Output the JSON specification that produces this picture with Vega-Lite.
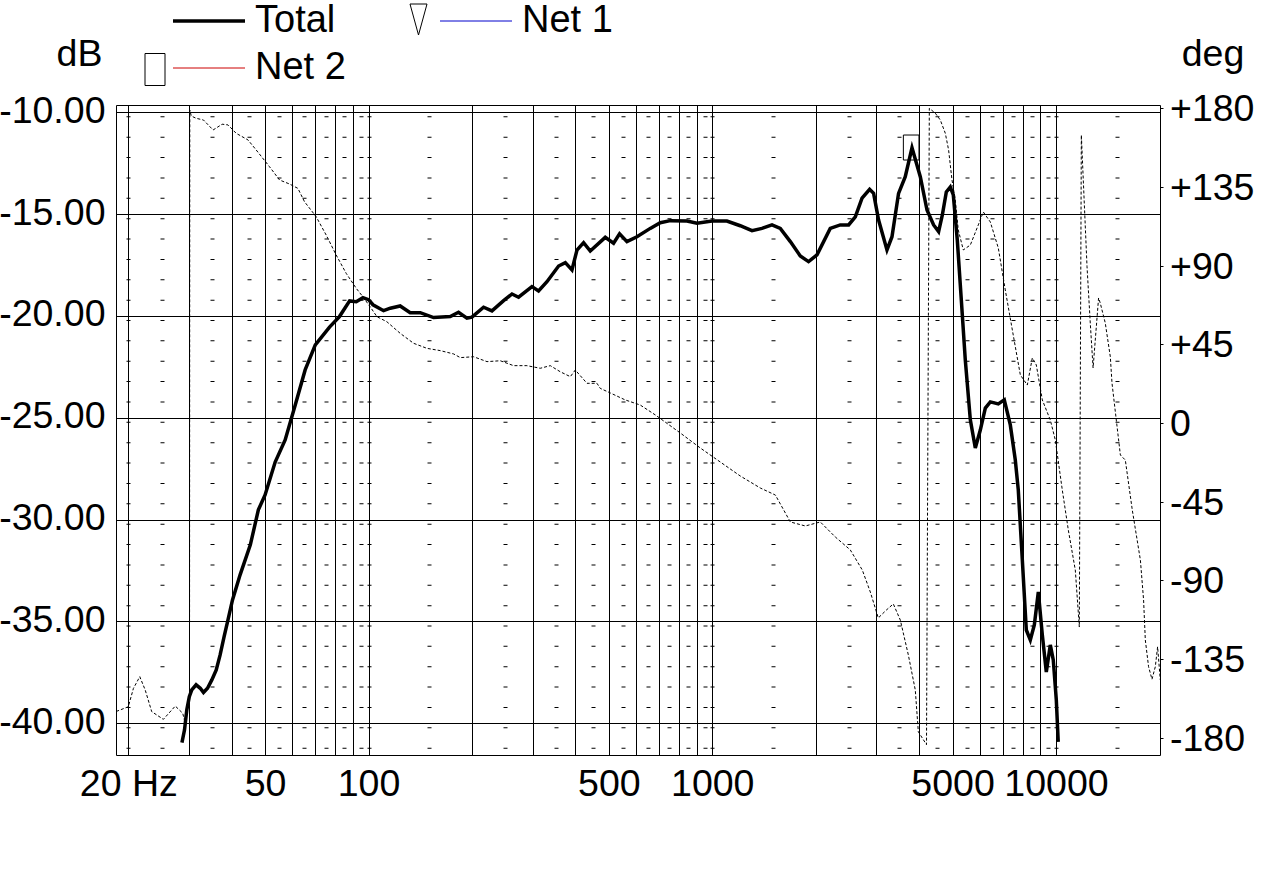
{
  "$schema": "https://vega.github.io/schema/vega-lite/v6.json",
  "width": 1044,
  "height": 650,
  "autosize": {"type": "none"},
  "padding": {"left": 116, "top": 105, "right": 116, "bottom": 137},
  "background": "white",
  "config": {
    "view": {"stroke": "black", "strokeWidth": 1},
    "axis": {"labelFont": "Liberation Sans", "labelFontSize": 37.5, "labelColor": "black", "titleFont": "Liberation Sans", "titleFontSize": 37.5, "titleFontWeight": "normal", "titleColor": "black", "gridColor": "black", "gridOpacity": 1, "gridWidth": 1, "domain": false, "ticks": false, "tickSize": 0},
    "legend": {"padding": 0, "titlePadding": 0}
  },
  "datasets": {
    "mag": [
      {"f": 28.65, "db": -40.95, "series": "Total"}, {"f": 29.15, "db": -40.32, "series": "Total"}, {"f": 29.6, "db": -39.34, "series": "Total"},
      {"f": 30.1, "db": -38.69, "series": "Total"}, {"f": 30.6, "db": -38.36, "series": "Total"}, {"f": 31.5, "db": -38.11, "series": "Total"},
      {"f": 32.4, "db": -38.28, "series": "Total"}, {"f": 33.1, "db": -38.49, "series": "Total"}, {"f": 34.0, "db": -38.28, "series": "Total"},
      {"f": 35.0, "db": -37.87, "series": "Total"}, {"f": 36.05, "db": -37.38, "series": "Total"}, {"f": 37.0, "db": -36.64, "series": "Total"},
      {"f": 38.0, "db": -35.74, "series": "Total"}, {"f": 39.0, "db": -34.92, "series": "Total"}, {"f": 40.2, "db": -33.94, "series": "Total"},
      {"f": 42.3, "db": -32.71, "series": "Total"}, {"f": 45.3, "db": -31.24, "series": "Total"}, {"f": 47.8, "db": -29.52, "series": "Total"},
      {"f": 50.0, "db": -28.79, "series": "Total"}, {"f": 53.5, "db": -27.17, "series": "Total"}, {"f": 57.2, "db": -26.09, "series": "Total"},
      {"f": 61.2, "db": -24.37, "series": "Total"}, {"f": 65.4, "db": -22.65, "series": "Total"}, {"f": 70.0, "db": -21.42, "series": "Total"},
      {"f": 77.0, "db": -20.55, "series": "Total"}, {"f": 82.3, "db": -20.03, "series": "Total"}, {"f": 88.1, "db": -19.26, "series": "Total"},
      {"f": 92.1, "db": -19.3, "series": "Total"}, {"f": 96.3, "db": -19.1, "series": "Total"}, {"f": 100, "db": -19.2, "series": "Total"},
      {"f": 103, "db": -19.45, "series": "Total"}, {"f": 110.6, "db": -19.74, "series": "Total"}, {"f": 115.7, "db": -19.62, "series": "Total"},
      {"f": 123.6, "db": -19.51, "series": "Total"}, {"f": 132.2, "db": -19.84, "series": "Total"}, {"f": 141.4, "db": -19.84, "series": "Total"},
      {"f": 154.6, "db": -20.08, "series": "Total"}, {"f": 172.9, "db": -20.03, "series": "Total"}, {"f": 182.7, "db": -19.82, "series": "Total"},
      {"f": 193.3, "db": -20.11, "series": "Total"}, {"f": 199.9, "db": -20.06, "series": "Total"}, {"f": 216.1, "db": -19.57, "series": "Total"},
      {"f": 228.6, "db": -19.75, "series": "Total"}, {"f": 247.1, "db": -19.25, "series": "Total"}, {"f": 261.4, "db": -18.92, "series": "Total"},
      {"f": 273.2, "db": -19.08, "series": "Total"}, {"f": 298.8, "db": -18.56, "series": "Total"}, {"f": 312.3, "db": -18.77, "series": "Total"},
      {"f": 330.4, "db": -18.32, "series": "Total"}, {"f": 357.2, "db": -17.55, "series": "Total"}, {"f": 373.6, "db": -17.38, "series": "Total"},
      {"f": 390.7, "db": -17.74, "series": "Total"}, {"f": 404, "db": -16.76, "series": "Total"}, {"f": 422.3, "db": -16.4, "series": "Total"},
      {"f": 441.6, "db": -16.81, "series": "Total"}, {"f": 488.3, "db": -16.14, "series": "Total"}, {"f": 516.2, "db": -16.43, "series": "Total"},
      {"f": 537.4, "db": -15.97, "series": "Total"}, {"f": 564.6, "db": -16.35, "series": "Total"}, {"f": 603.8, "db": -16.11, "series": "Total"},
      {"f": 660, "db": -15.7, "series": "Total"}, {"f": 705.8, "db": -15.42, "series": "Total"}, {"f": 754.8, "db": -15.32, "series": "Total"},
      {"f": 844.2, "db": -15.34, "series": "Total"}, {"f": 902.7, "db": -15.45, "series": "Total"}, {"f": 998, "db": -15.34, "series": "Total"},
      {"f": 1103, "db": -15.34, "series": "Total"}, {"f": 1206, "db": -15.57, "series": "Total"}, {"f": 1305, "db": -15.81, "series": "Total"},
      {"f": 1395, "db": -15.7, "series": "Total"}, {"f": 1492, "db": -15.53, "series": "Total"}, {"f": 1577, "db": -15.7, "series": "Total"},
      {"f": 1687, "db": -16.35, "series": "Total"}, {"f": 1803, "db": -17.05, "series": "Total"}, {"f": 1906, "db": -17.33, "series": "Total"},
      {"f": 2017, "db": -17.0, "series": "Total"}, {"f": 2204, "db": -15.7, "series": "Total"}, {"f": 2357, "db": -15.53, "series": "Total"},
      {"f": 2493, "db": -15.53, "series": "Total"}, {"f": 2607, "db": -15.13, "series": "Total"}, {"f": 2727, "db": -14.22, "series": "Total"},
      {"f": 2869, "db": -13.78, "series": "Total"}, {"f": 2947, "db": -13.98, "series": "Total"}, {"f": 3047, "db": -15.29, "series": "Total"},
      {"f": 3223, "db": -16.76, "series": "Total"}, {"f": 3333, "db": -16.11, "series": "Total"}, {"f": 3483, "db": -13.98, "series": "Total"},
      {"f": 3643, "db": -13.16, "series": "Total"}, {"f": 3811, "db": -11.74, "series": "Total"}, {"f": 4029, "db": -13.16, "series": "Total"},
      {"f": 4214, "db": -14.8, "series": "Total"}, {"f": 4405, "db": -15.53, "series": "Total"}, {"f": 4555, "db": -15.86, "series": "Total"},
      {"f": 4670, "db": -15.04, "series": "Total"}, {"f": 4796, "db": -13.91, "series": "Total"}, {"f": 4926, "db": -13.67, "series": "Total"},
      {"f": 5026, "db": -14.06, "series": "Total"}, {"f": 5162, "db": -16.27, "series": "Total"}, {"f": 5303, "db": -19.21, "series": "Total"},
      {"f": 5446, "db": -22.16, "series": "Total"}, {"f": 5633, "db": -25.1, "series": "Total"}, {"f": 5824, "db": -26.48, "series": "Total"},
      {"f": 6023, "db": -25.6, "series": "Total"}, {"f": 6228, "db": -24.52, "series": "Total"}, {"f": 6440, "db": -24.22, "series": "Total"},
      {"f": 6794, "db": -24.32, "series": "Total"}, {"f": 7072, "db": -24.12, "series": "Total"}, {"f": 7363, "db": -25.35, "series": "Total"},
      {"f": 7613, "db": -27.07, "series": "Total"}, {"f": 7767, "db": -28.54, "series": "Total"}, {"f": 7980, "db": -31.98, "series": "Total"},
      {"f": 8196, "db": -35.42, "series": "Total"}, {"f": 8419, "db": -35.91, "series": "Total"}, {"f": 8648, "db": -35.17, "series": "Total"},
      {"f": 8883, "db": -33.55, "series": "Total"}, {"f": 9124, "db": -35.66, "series": "Total"}, {"f": 9371, "db": -37.48, "series": "Total"},
      {"f": 9625, "db": -36.15, "series": "Total"}, {"f": 9819, "db": -36.89, "series": "Total"}, {"f": 10020, "db": -38.85, "series": "Total"},
      {"f": 10150, "db": -40.91, "series": "Total"}
    ],
    "phase": [
      {"f": 18.45, "deg": -165, "seg": "a"}, {"f": 20.0, "deg": -162.3, "seg": "a"}, {"f": 20.7, "deg": -151.8, "seg": "a"},
      {"f": 21.6, "deg": -145.1, "seg": "a"}, {"f": 22.4, "deg": -152.7, "seg": "a"}, {"f": 23.4, "deg": -165.1, "seg": "a"},
      {"f": 25.3, "deg": -169.5, "seg": "a"}, {"f": 27.4, "deg": -161.9, "seg": "a"}, {"f": 28.8, "deg": -166.0, "seg": "a"},
      {"f": 29.3, "deg": -171.8, "seg": "a"},
      {"f": 30.15, "deg": -114, "seg": "b"}, {"f": 30.2, "deg": 179, "seg": "b"}, {"f": 30.5, "deg": 175.6, "seg": "b"},
      {"f": 31.5, "deg": 174.3, "seg": "b"}, {"f": 33.1, "deg": 173.3, "seg": "b"}, {"f": 35.3, "deg": 167.6, "seg": "b"},
      {"f": 37.5, "deg": 170.9, "seg": "b"}, {"f": 39.0, "deg": 170.5, "seg": "b"}, {"f": 41.2, "deg": 165.7, "seg": "b"},
      {"f": 44.6, "deg": 161.9, "seg": "b"}, {"f": 47.1, "deg": 156.2, "seg": "b"}, {"f": 51.5, "deg": 146.6, "seg": "b"},
      {"f": 55.1, "deg": 139.0, "seg": "b"}, {"f": 58.9, "deg": 136.7, "seg": "b"}, {"f": 62.3, "deg": 134.2, "seg": "b"},
      {"f": 65.1, "deg": 126.6, "seg": "b"}, {"f": 70.4, "deg": 118.0, "seg": "b"}, {"f": 75.3, "deg": 107.5, "seg": "b"},
      {"f": 80.5, "deg": 96.1, "seg": "b"}, {"f": 86.1, "deg": 85.6, "seg": "b"}, {"f": 92.1, "deg": 77.0, "seg": "b"},
      {"f": 96.3, "deg": 72.2, "seg": "b"}, {"f": 101.8, "deg": 65.6, "seg": "b"}, {"f": 105.8, "deg": 60.8, "seg": "b"},
      {"f": 113.1, "deg": 57.9, "seg": "b"}, {"f": 123.6, "deg": 51.3, "seg": "b"}, {"f": 135.2, "deg": 45.6, "seg": "b"},
      {"f": 147.9, "deg": 42.7, "seg": "b"}, {"f": 161.7, "deg": 41.4, "seg": "b"}, {"f": 176.8, "deg": 39.5, "seg": "b"},
      {"f": 184.9, "deg": 37.4, "seg": "b"}, {"f": 202.1, "deg": 37.9, "seg": "b"}, {"f": 221.1, "deg": 35.1, "seg": "b"},
      {"f": 241.7, "deg": 35.6, "seg": "b"}, {"f": 264.2, "deg": 32.8, "seg": "b"}, {"f": 288.9, "deg": 32.8, "seg": "b"},
      {"f": 315.9, "deg": 31.3, "seg": "b"}, {"f": 337.9, "deg": 32.8, "seg": "b"}, {"f": 361.3, "deg": 29.3, "seg": "b"},
      {"f": 386.4, "deg": 26.5, "seg": "b"}, {"f": 399.5, "deg": 30.3, "seg": "b"}, {"f": 432, "deg": 22.7, "seg": "b"},
      {"f": 461.9, "deg": 22.7, "seg": "b"}, {"f": 472.2, "deg": 19.8, "seg": "b"}, {"f": 504.9, "deg": 17.2, "seg": "b"},
      {"f": 558, "deg": 13.2, "seg": "b"}, {"f": 617, "deg": 10.3, "seg": "b"}, {"f": 683, "deg": 4.6, "seg": "b"},
      {"f": 807, "deg": -5.7, "seg": "b"}, {"f": 923, "deg": -14.3, "seg": "b"}, {"f": 1055, "deg": -22.3, "seg": "b"},
      {"f": 1206, "deg": -30.3, "seg": "b"}, {"f": 1380, "deg": -37.2, "seg": "b"}, {"f": 1526, "deg": -41.2, "seg": "b"},
      {"f": 1687, "deg": -56.6, "seg": "b"}, {"f": 1865, "deg": -58.9, "seg": "b"}, {"f": 2062, "deg": -56.6, "seg": "b"},
      {"f": 2280, "deg": -65.2, "seg": "b"}, {"f": 2521, "deg": -72.6, "seg": "b"}, {"f": 2732, "deg": -84.1, "seg": "b"},
      {"f": 2883, "deg": -96.7, "seg": "b"}, {"f": 3041, "deg": -111.5, "seg": "b"}, {"f": 3209, "deg": -107, "seg": "b"},
      {"f": 3363, "deg": -103.5, "seg": "b"}, {"f": 3524, "deg": -112.7, "seg": "b"}, {"f": 3719, "deg": -132.7, "seg": "b"},
      {"f": 3896, "deg": -152.7, "seg": "b"}, {"f": 3976, "deg": -176.6, "seg": "b"}, {"f": 4200, "deg": -184, "seg": "b"},
      {"f": 4280, "deg": 180, "seg": "b"}, {"f": 4455, "deg": 177.2, "seg": "b"}, {"f": 4607, "deg": 173.3, "seg": "b"},
      {"f": 4764, "deg": 165.7, "seg": "b"}, {"f": 4870, "deg": 156.2, "seg": "b"}, {"f": 4982, "deg": 139, "seg": "b"},
      {"f": 5093, "deg": 127.6, "seg": "b"}, {"f": 5196, "deg": 110.4, "seg": "b"}, {"f": 5374, "deg": 99.0, "seg": "b"},
      {"f": 5633, "deg": 101.8, "seg": "b"}, {"f": 5942, "deg": 113.3, "seg": "b"}, {"f": 6145, "deg": 120.7, "seg": "b"},
      {"f": 6440, "deg": 115.0, "seg": "b"}, {"f": 6794, "deg": 100.1, "seg": "b"}, {"f": 7119, "deg": 76.1, "seg": "b"},
      {"f": 7464, "deg": 53.2, "seg": "b"}, {"f": 7874, "deg": 27.5, "seg": "b"}, {"f": 8251, "deg": 21.7, "seg": "b"},
      {"f": 8532, "deg": 37.2, "seg": "b"}, {"f": 8764, "deg": 33.2, "seg": "b"}, {"f": 9124, "deg": 13.2, "seg": "b"},
      {"f": 9625, "deg": 1.7, "seg": "b"}, {"f": 9954, "deg": -9.7, "seg": "b"}, {"f": 10430, "deg": -38.3, "seg": "b"},
      {"f": 10860, "deg": -61.2, "seg": "b"}, {"f": 11380, "deg": -84.1, "seg": "b"}, {"f": 11690, "deg": -116.7, "seg": "b"},
      {"f": 11850, "deg": 164.7, "seg": "b"}, {"f": 12310, "deg": 89.4, "seg": "b"}, {"f": 12580, "deg": 57.2, "seg": "b"},
      {"f": 12820, "deg": 31.5, "seg": "b"}, {"f": 13300, "deg": 71.5, "seg": "b"}, {"f": 13450, "deg": 68.6, "seg": "b"},
      {"f": 13910, "deg": 57.2, "seg": "b"}, {"f": 14390, "deg": 37.8, "seg": "b"}, {"f": 14550, "deg": 22.9, "seg": "b"},
      {"f": 15390, "deg": -18.3, "seg": "b"}, {"f": 15910, "deg": -21.2, "seg": "b"}, {"f": 16670, "deg": -49.8, "seg": "b"},
      {"f": 17600, "deg": -78.4, "seg": "b"}, {"f": 17980, "deg": -101.2, "seg": "b"}, {"f": 18190, "deg": -124.1, "seg": "b"},
      {"f": 18590, "deg": -139.4, "seg": "b"}, {"f": 19020, "deg": -146.6, "seg": "b"}, {"f": 19450, "deg": -139.4, "seg": "b"},
      {"f": 19750, "deg": -128, "seg": "b"}, {"f": 20110, "deg": -147, "seg": "b"}
    ],
    "marker": [
      {"f": 3790, "db": -11.73, "marker": "m2"}
    ]
  },
  "layer": [
    {
      "data": {"name": "mag"},
      "mark": {"type": "line", "clip": true, "strokeWidth": 3.5, "strokeCap": "butt"},
      "encoding": {
        "x": {
          "field": "f", "type": "quantitative",
          "scale": {"type": "log", "domain": [18.42, 20070], "nice": false},
          "axis": {
            "orient": "bottom", "title": null,
            "values": [20, 30, 40, 50, 60, 70, 80, 90, 100, 200, 300, 400, 500, 600, 700, 800, 900, 1000, 2000, 3000, 4000, 5000, 6000, 7000, 8000, 9000, 10000],
            "grid": true,
            "labelExpr": "datum.value == 20 ? '20 Hz' : ((datum.value == 50 || datum.value == 100 || datum.value == 500 || datum.value == 1000 || datum.value == 5000 || datum.value == 10000) ? '' + datum.value : '')",
            "labelBaseline": "top", "labelPadding": 10, "labelOverlap": false, "labelFlush": false, "labelBound": false
          }
        },
        "y": {
          "field": "db", "type": "quantitative",
          "scale": {"domain": [-41.556, -9.642], "nice": false, "zero": false},
          "axis": {
            "orient": "left", "values": [-40, -35, -30, -25, -20, -15, -10], "grid": true,
            "labelExpr": "datum.value + '.00'", "labelAlign": "right", "labelPadding": 11, "labelOffset": -1, "labelOverlap": false, "labelFlush": false, "labelBound": false,
            "title": "dB", "titleAngle": 0, "titleX": -37, "titleY": -40, "titleAlign": "center", "titleBaseline": "alphabetic"
          }
        },
        "color": {
          "field": "series", "type": "nominal",
          "scale": {"domain": ["Total", "Net 1", "Net 2"], "range": ["#000000", "#0000cc", "#cc0000"]},
          "legend": {
            "orient": "none", "direction": "horizontal", "legendX": 74, "legendY": -103, "columns": 2, "columnPadding": 92, "rowPadding": 9,
            "symbolType": "M-3.6,0H3.6", "symbolSize": 400, "symbolOffset": 0,
            "labelFont": "Liberation Sans", "labelFontSize": 38, "labelOffset": 27, "labelColor": "black", "labelLimit": 0,
            "title": null,
            "encode": {"symbols": {"update": {"strokeWidth": {"signal": "datum.value === 'Total' ? 3.5 : 1"}}}}
          }
        }
      }
    },
    {
      "data": {"name": "marker"},
      "mark": {"type": "point", "filled": false, "stroke": "black", "strokeWidth": 1, "size": 61, "opacity": 1, "clip": true},
      "encoding": {
        "x": {
          "field": "f", "type": "quantitative",
          "scale": {"type": "log", "domain": [18.42, 20070], "nice": false},
          "axis": {
            "orient": "top", "title": null, "labels": false, "ticks": false, "domain": false,
            "values": [20, 25, 35, 45, 55, 65, 75, 85, 95, 100, 150, 250, 350, 450, 550, 650, 750, 850, 950, 1000, 1500, 2500, 3500, 4500, 5500, 6500, 7500, 8500, 9500, 10000, 15000],
            "grid": true, "gridWidth": 4, "gridDash": [1, 19.367], "gridDashOffset": 13.57
          }
        },
        "y": {
          "field": "db", "type": "quantitative",
          "scale": {"domain": [-41.556, -9.642], "nice": false, "zero": false},
          "axis": null
        },
        "shape": {
          "field": "marker", "type": "nominal",
          "scale": {"domain": ["m0", "m1", "m2"], "range": ["M0,0", "M-1.7,-3.1H1.7L0,3.1Z", "M-2,-3.2H2V3.2H-2Z"]},
          "legend": {
            "orient": "none", "direction": "horizontal", "legendX": 33.5, "legendY": -91, "columns": 2, "columnPadding": 240.5, "rowPadding": 14,
            "symbolSize": 100, "symbolStrokeColor": "black", "symbolStrokeWidth": 1, "symbolFillColor": "transparent",
            "labelExpr": "''", "labelFontSize": 1, "labelOffset": 0, "title": null
          }
        }
      }
    },
    {
      "data": {"name": "phase"},
      "mark": {"type": "line", "color": "black", "strokeWidth": 1, "strokeDash": [3, 2], "clip": true},
      "encoding": {
        "x": {
          "field": "f", "type": "quantitative",
          "scale": {"type": "log", "domain": [18.42, 20070], "nice": false},
          "axis": null
        },
        "y": {
          "field": "deg", "type": "quantitative",
          "scale": {"domain": [-189.9, 181.89], "nice": false, "zero": false},
          "axis": {
            "orient": "right", "values": [-180, -135, -90, -45, 0, 45, 90, 135, 180], "grid": false,
            "labelExpr": "datum.value > 0 ? '+' + datum.value : '' + datum.value",
            "labelAlign": "left", "labelPadding": 6.5, "labelOffset": 1.5, "labelOverlap": false, "labelFlush": false, "labelBound": false,
            "ticks": true, "tickSize": 3, "tickColor": "black", "tickWidth": 1,
            "title": "deg", "titleAngle": 0, "titleX": 52.5, "titleY": -40, "titleAlign": "center", "titleBaseline": "alphabetic"
          }
        },
        "detail": {"field": "seg", "type": "nominal"}
      }
    }
  ],
  "resolve": {"scale": {"y": "independent"}, "axis": {"x": "independent", "y": "independent"}}
}
